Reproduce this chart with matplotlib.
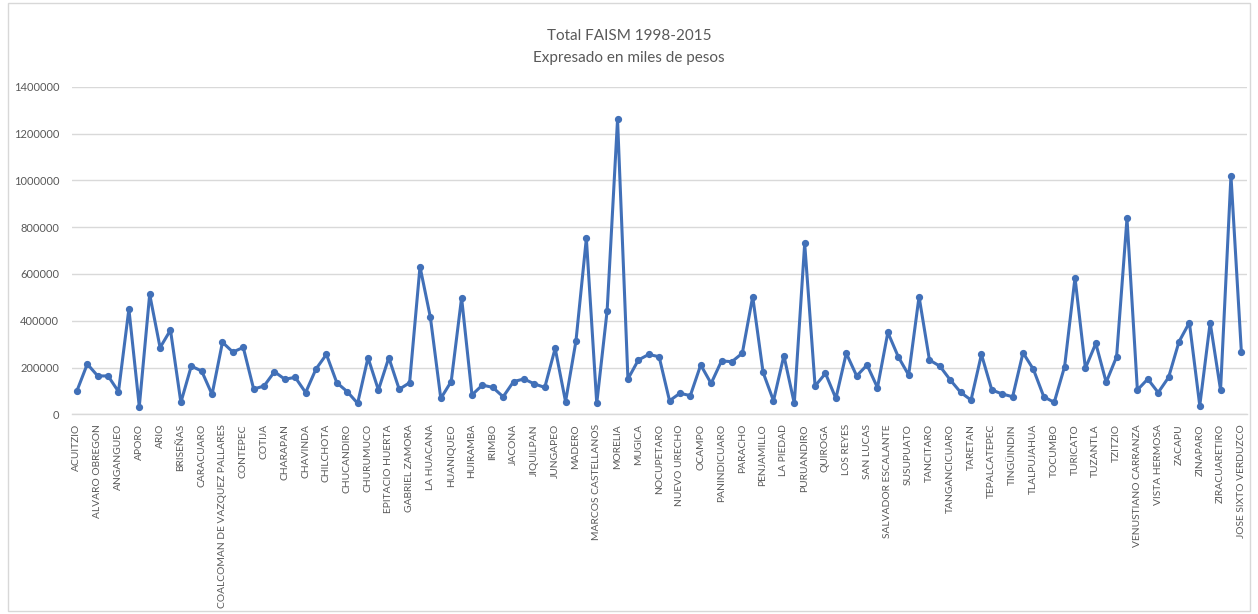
import matplotlib.pyplot as plt
from matplotlib.patches import Rectangle

plt.rcParams['font.family'] = ['Lato', 'DejaVu Sans']

# municipios de Michoacan, en orden de clave
municipios = [
    "ACUITZIO", "AGUILILLA", "ALVARO OBREGON", "ANGAMACUTIRO", "ANGANGUEO",
    "APATZINGAN", "APORO", "AQUILA", "ARIO", "ARTEAGA", "BRISEÑAS",
    "BUENAVISTA", "CARACUARO", "COAHUAYANA", "COALCOMAN DE VAZQUEZ PALLARES",
    "COENEO", "CONTEPEC", "COPANDARO", "COTIJA", "CUITZEO", "CHARAPAN",
    "CHARO", "CHAVINDA", "CHERAN", "CHILCHOTA", "CHINICUILA", "CHUCANDIRO",
    "CHURINTZIO", "CHURUMUCO", "ECUANDUREO", "EPITACIO HUERTA",
    "ERONGARICUARO", "GABRIEL ZAMORA", "HIDALGO", "LA HUACANA", "HUANDACAREO",
    "HUANIQUEO", "HUETAMO", "HUIRAMBA", "INDAPARAPEO", "IRIMBO", "IXTLAN",
    "JACONA", "JIMENEZ", "JIQUILPAN", "JUAREZ", "JUNGAPEO", "LAGUNILLAS",
    "MADERO", "MARAVATIO", "MARCOS CASTELLANOS", "LAZARO CARDENAS", "MORELIA",
    "MORELOS", "MUGICA", "NAHUATZEN", "NOCUPETARO", "NUEVO PARANGARICUTIRO",
    "NUEVO URECHO", "NUMARAN", "OCAMPO", "PAJACUARAN", "PANINDICUARO",
    "PARACUARO", "PARACHO", "PATZCUARO", "PENJAMILLO", "PERIBAN", "LA PIEDAD",
    "PUREPERO", "PURUANDIRO", "QUERENDARO", "QUIROGA", "COJUMATLAN DE REGULES",
    "LOS REYES", "SAHUAYO", "SAN LUCAS", "SANTA ANA MAYA", "SALVADOR ESCALANTE",
    "SENGUIO", "SUSUPUATO", "TACAMBARO", "TANCITARO", "TANGAMANDAPIO",
    "TANGANCICUARO", "TANHUATO", "TARETAN", "TARIMBARO", "TEPALCATEPEC",
    "TINGAMBATO", "TINGÜINDIN", "TIQUICHEO DE NICOLAS ROMERO", "TLALPUJAHUA",
    "TLAZAZALCA", "TOCUMBO", "TUMBISCATIO", "TURICATO", "TUXPAN", "TUZANTLA",
    "TZINTZUNTZAN", "TZITZIO", "URUAPAN", "VENUSTIANO CARRANZA", "VILLAMAR",
    "VISTA HERMOSA", "YURECUARO", "ZACAPU", "ZAMORA", "ZINAPARO",
    "ZINAPECUARO", "ZIRACUARETIRO", "ZITACUARO", "JOSE SIXTO VERDUZCO",
]

# total FAISM 1998-2015, miles de pesos
total_faism = [
    100000, 215000, 164000, 164000, 97000, 450000, 33000, 513000, 285000, 360000,
    51000, 206000, 185000, 85000, 308000, 266000, 286000, 108000, 121000, 182000,
    150000, 158000, 93000, 194000, 256000, 135000, 97000, 47000, 242000, 104000,
    242000, 107000, 135000, 631000, 414000, 68000, 140000, 498000, 83000, 125000,
    115000, 75000, 140000, 151000, 130000, 115000, 282000, 54000, 313000, 752000,
    47000, 443000, 1260000, 151000, 232000, 256000, 246000, 58000, 90000, 80000,
    211000, 132000, 228000, 225000, 261000, 503000, 179000, 58000, 251000, 47000,
    730000, 121000, 175000, 68000, 261000, 164000, 211000, 114000, 350000, 246000,
    168000, 503000, 232000, 206000, 147000, 94000, 61000, 256000, 104000, 87000,
    75000, 263000, 192000, 75000, 51000, 204000, 584000, 197000, 303000, 137000,
    246000, 837000, 104000, 151000, 93000, 158000, 310000, 392000, 37000, 392000,
    104000, 1020000, 268000,
]

y_ticks = [0, 200000, 400000, 600000, 800000, 1000000, 1200000, 1400000]

azul = '#4170B8'
gris_texto = '#595959'
gris_linea = '#D9D9D9'

fig = plt.figure(figsize=(12.58, 6.14), dpi=100)
ax = fig.add_axes([0.057, 0.3252, 0.9339, 0.5336])

x = list(range(len(municipios)))
ax.plot(x, total_faism, color=azul, linewidth=2.2, marker='o', markersize=4.2,
        markerfacecolor=azul, markeredgecolor=azul, zorder=3)

ax.set_xlim(-0.5, len(municipios) - 0.5)
ax.set_ylim(0, 1400000)
ax.set_yticks(y_ticks)
ax.set_yticklabels([str(v) for v in y_ticks], fontsize=8, color=gris_texto)
ax.yaxis.grid(True, color=gris_linea, linewidth=1)
ax.set_axisbelow(True)
ax.tick_params(axis='y', length=0, pad=9)

# una etiqueta si y otra no, como en la hoja
ax.set_xticks(x[::2])
ax.set_xticklabels(municipios[::2], rotation=90, fontsize=7.4, color=gris_texto,
                   va='top', ha='center')
ax.tick_params(axis='x', length=0, pad=7)

for lado in ['top', 'right', 'left']:
    ax.spines[lado].set_visible(False)
ax.spines['bottom'].set_color(gris_linea)
ax.spines['bottom'].set_linewidth(1)

fig.text(0.5, 0.942, 'Total FAISM 1998-2015', ha='center', va='center',
         fontsize=11, color=gris_texto)
fig.text(0.5, 0.906, 'Expresado en miles de pesos', ha='center', va='center',
         fontsize=11, color=gris_texto)

# borde del area del grafico
fig.patches.append(Rectangle((0.006, 0.005), 0.988, 0.99, transform=fig.transFigure,
                             fill=False, edgecolor='#D8D8D8', linewidth=1))

fig.savefig('out.png', dpi=100)
